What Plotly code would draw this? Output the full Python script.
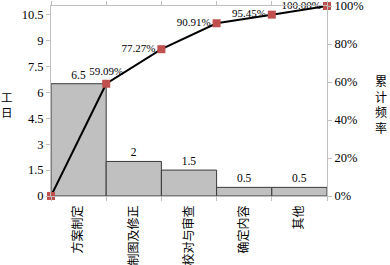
import plotly.graph_objects as go

categories = ["方案制定", "制图及修正", "校对与审查", "确定内容", "其他"]
workdays = [6.5, 2, 1.5, 0.5, 0.5]
cum_freq = [0, 0.5909, 0.7727, 0.9091, 0.9545, 1.0]
cum_labels = ["", "59.09%", "77.27%", "90.91%", "95.45%", "100.00%"]
bar_labels = ["6.5", "2", "1.5", "0.5", "0.5"]
left_ticks = [0, 1.5, 3, 4.5, 6, 7.5, 9, 10.5]
left_tick_text = ["0", "1.5", "3", "4.5", "6", "7.5", "9", "10.5"]
right_ticks = [0, 0.2, 0.4, 0.6, 0.8, 1.0]
right_tick_text = ["0%", "20%", "40%", "60%", "80%", "100%"]

n = len(categories)
bar_x = [i + 0.5 for i in range(n)]
line_x = list(range(n + 1))
total = sum(workdays)

tick_font = dict(family="Liberation Serif", size=12.5, color="#000")
label_font = dict(family="Liberation Serif", size=11.5, color="#000")
cjk_font = dict(family="Noto Sans CJK SC", size=12, color="#000")
title_font = dict(family="Noto Sans CJK SC", size=12, color="#000")

fig = go.Figure()
fig.add_trace(go.Bar(
    x=bar_x, y=workdays, width=1,
    marker=dict(color="#c0c0c0", line=dict(color="#3a3a3a", width=1)),
    text=bar_labels, textposition="outside", textfont=label_font,
    cliponaxis=False, showlegend=False,
))
fig.add_trace(go.Scatter(
    x=line_x, y=cum_freq, yaxis="y2", mode="lines+markers+text",
    line=dict(color="#000", width=2),
    marker=dict(symbol="square", size=8, color="#c0504d"),
    text=cum_labels,
    textposition=["top center", "top center", "middle left", "middle left", "middle left", "middle left"],
    textfont=dict(family="Liberation Serif", size=11, color="#000"),
    cliponaxis=False, showlegend=False,
))
# helper trace for boundary ticks axis
fig.add_trace(go.Scatter(x=[0, n], y=[0, 0], xaxis="x2", mode="markers",
                         marker=dict(opacity=0), hoverinfo="skip", showlegend=False))

fig.update_layout(
    width=390, height=265,
    margin=dict(l=51, r=63, t=6, b=69),
    paper_bgcolor="white", plot_bgcolor="white",
    xaxis=dict(range=[0, n], tickvals=bar_x, ticktext=categories, tickangle=-90,
               tickfont=cjk_font, ticks="", showline=False, showgrid=False, zeroline=False,
               automargin=False, ticklabelstandoff=6),
    xaxis2=dict(range=[0, n], overlaying="x", side="bottom", tickvals=line_x,
                showticklabels=False, ticks="outside", ticklen=4, tickcolor="#bfbfbf",
                showline=True, linecolor="#bfbfbf", linewidth=1, mirror="ticks",
                showgrid=False, zeroline=False, automargin=False),
    yaxis=dict(range=[0, total], tickvals=left_ticks, ticktext=left_tick_text,
               tickfont=tick_font, ticks="outside", ticklen=4, tickcolor="#bfbfbf",
               showline=True, linecolor="#bfbfbf", showgrid=False, zeroline=False,
               automargin=False, ticklabeloverflow="allow"),
    yaxis2=dict(range=[0, 1], overlaying="y", side="right",
                tickvals=right_ticks, ticktext=right_tick_text,
                tickfont=tick_font, ticks="outside", ticklen=4, tickcolor="#bfbfbf",
                showline=True, linecolor="#bfbfbf", showgrid=False, zeroline=False,
                automargin=False, ticklabeloverflow="allow"),
    annotations=[
        dict(text="工<br>日", xref="paper", yref="paper", x=-0.159, y=0.484,
             xanchor="center", yanchor="middle", showarrow=False,
             font=dict(family="Noto Sans CJK SC", size=11.5, color="#000")),
        dict(text="累<br>计<br>频<br>率", xref="paper", yref="paper", x=1.196, y=0.484,
             xanchor="center", yanchor="middle", showarrow=False, font=title_font),
    ],
)
fig.write_html("out.html", config={"displayModeBar": False},
               post_script="document.body.style.margin='0';document.body.style.overflow='hidden';")
